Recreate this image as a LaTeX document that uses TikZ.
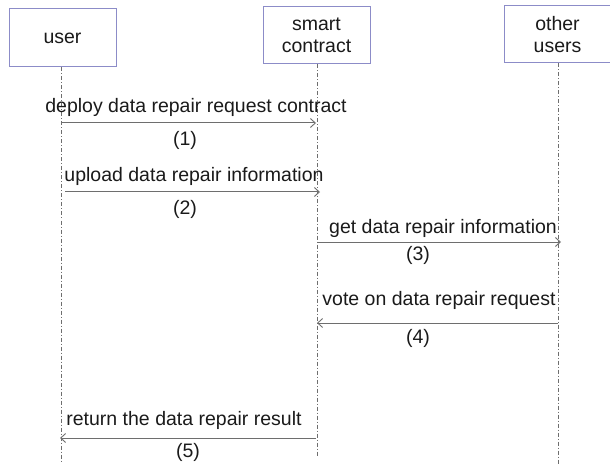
\documentclass[tikz,border=0pt]{standalone}
\usepackage{fontspec}
\setmainfont{Liberation Sans}
\usetikzlibrary{arrows.meta}
\definecolor{boxc}{HTML}{8C8CC8}
\definecolor{linec}{HTML}{6E6E6E}
\definecolor{txtc}{HTML}{1A1A1A}
\begin{document}
\begin{tikzpicture}[x=1pt,y=-1pt,
  actor/.style={draw=boxc,line width=1pt,fill=white,inner sep=0pt,
    align=center,font=\fontsize{19.5}{22}\selectfont,text=txtc},
  lifeline/.style={draw=linec,line width=0.9pt,dash pattern=on 4pt off 2pt on 1pt off 2pt},
  msg/.style={draw=linec,line width=1pt,-{Straight Barb[length=5pt,width=9pt,line width=0.9pt]}},
  lbl/.style={font=\fontsize{19.5}{22}\selectfont,text=txtc,inner sep=0pt}]
\useasboundingbox (0,0) rectangle (610,465);
% actors
\node[actor,minimum width=107pt,minimum height=58pt] (user) at (62.5,38) {user};
\node[actor,minimum width=107pt,minimum height=57pt] (sc) at (316.5,35.5) {smart\\contract};
\node[actor,minimum width=107pt,minimum height=57pt] (ou) at (557.5,34.5) {other\\users};
% lifeline ends
\coordinate (uend) at (61,462);
\coordinate (send) at (317,456);
\coordinate (oend) at (558,465);
\draw[lifeline] (user.south -| uend) -- (uend);
\draw[lifeline] (sc.south -| send) -- (send);
\draw[lifeline] (ou.south -| oend) -- (oend);
% message end points
\coordinate (a1s) at (62,123);  \coordinate (a1e) at (316,123);
\coordinate (a2s) at (65,192);  \coordinate (a2e) at (320,192);
\coordinate (a3s) at (317,242); \coordinate (a3e) at (561,242);
\coordinate (a4s) at (558,323); \coordinate (a4e) at (317,323);
\coordinate (a5s) at (316,438); \coordinate (a5e) at (60,438);
\draw[msg] (a1s) -- (a1e);
\draw[msg] (a2s) -- (a2e);
\draw[msg] (a3s) -- (a3e);
\draw[msg] (a4s) -- (a4e);
\draw[msg] (a5s) -- (a5e);
% labels
\node[lbl] (l1) at (196,107) {deploy data repair request contract};
\node[lbl] (n1) at (185,140) {(1)};
\node[lbl] (l2) at (194,176) {upload data repair information};
\node[lbl] (n2) at (185,209) {(2)};
\node[lbl] (l3) at (443,228) {get data repair information};
\node[lbl] (n3) at (418,255) {(3)};
\node[lbl] (l4) at (439,300) {vote on data repair request};
\node[lbl] (n4) at (418,338) {(4)};
\node[lbl] (l5) at (184,420) {return the data repair result};
\node[lbl] (n5) at (188,452) {(5)};
\end{tikzpicture}
\end{document}
